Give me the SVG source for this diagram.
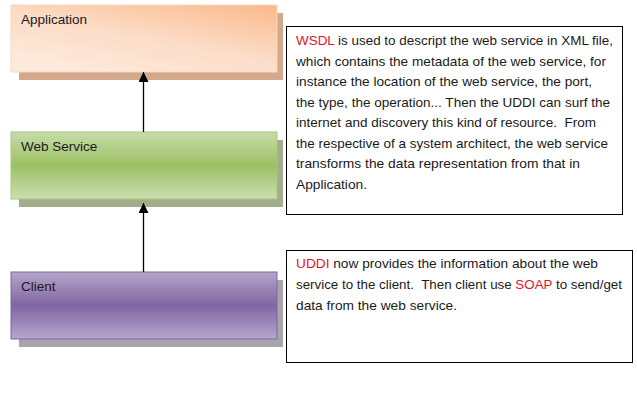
<svg xmlns="http://www.w3.org/2000/svg" width="637" height="400" viewBox="0 0 637 400">
  <defs>
    <linearGradient id="gApp" x1="1" y1="0" x2="0.3" y2="1">
      <stop offset="0" stop-color="#fab98a"/>
      <stop offset="0.55" stop-color="#fcdcc6"/>
      <stop offset="1" stop-color="#fde9dc"/>
    </linearGradient>
    <linearGradient id="gWeb" x1="0" y1="0" x2="0" y2="1">
      <stop offset="0" stop-color="#c6dcaa"/>
      <stop offset="0.5" stop-color="#9dc063"/>
      <stop offset="1" stop-color="#cadfb2"/>
    </linearGradient>
    <linearGradient id="gCli" x1="0" y1="0" x2="0" y2="1">
      <stop offset="0" stop-color="#b5a5c9"/>
      <stop offset="0.5" stop-color="#8166a3"/>
      <stop offset="1" stop-color="#b6a6cb"/>
    </linearGradient>
    <marker id="arrow" viewBox="0 0 10 10" refX="10" refY="5" markerWidth="10" markerHeight="10" markerUnits="userSpaceOnUse" orient="auto">
      <path d="M0,0 L10,5 L0,10 z" fill="#000"/>
    </marker>
    <style>
      .lbl { font-family: "Liberation Sans", Arial, sans-serif; font-size: 13.5px; fill: #1a1a1a; }
      .txt { font-family: "Liberation Sans", Arial, sans-serif; font-size: 13.5px; fill: #1a1a1a; }
      .red { fill: #e2151f; }
      .note { fill: #ffffff; stroke: #000000; stroke-width: 1; }
      .conn { stroke: #000; stroke-width: 1.3; fill: none; marker-end: url(#arrow); }
    </style>
  </defs>

  <rect width="637" height="400" fill="#ffffff"/>

  <g id="node-application">
    <rect x="19" y="13" width="264" height="67" fill="#d3a88b"/>
    <rect x="11" y="5" width="266" height="67" fill="url(#gApp)" stroke="#fbd6bd" stroke-width="1"/>
    <text class="lbl" x="21" y="24">Application</text>
  </g>

  <g id="node-webservice">
    <rect x="19" y="140" width="264" height="67" fill="#a5ac8d"/>
    <rect x="11" y="132" width="266" height="67" fill="url(#gWeb)" stroke="#a9c77a" stroke-width="1"/>
    <text class="lbl" x="21" y="151">Web Service</text>
  </g>

  <g id="node-client">
    <rect x="19" y="280" width="264" height="67" fill="#a7a4ab"/>
    <rect x="11" y="272" width="266" height="67" fill="url(#gCli)" stroke="#7e67a0" stroke-width="1"/>
    <text class="lbl" x="21" y="291">Client</text>
  </g>

  <g id="connectors">
    <line class="conn" x1="143.5" y1="132" x2="143.5" y2="72"/>
    <line class="conn" x1="143.5" y1="272" x2="143.5" y2="203"/>
  </g>

  <g id="note-wsdl">
    <rect class="note" x="286.5" y="26.5" width="336" height="188"/>
    <text class="txt" x="296" y="45" textLength="317" lengthAdjust="spacingAndGlyphs"><tspan class="red">WSDL</tspan> is used to descript the web service in XML file,</text>
    <text class="txt" x="296" y="66" textLength="310" lengthAdjust="spacingAndGlyphs">which contains the metadata of the web service, for</text>
    <text class="txt" x="296" y="86" textLength="296" lengthAdjust="spacingAndGlyphs">instance the location of the web service, the port,</text>
    <text class="txt" x="296" y="107" textLength="314" lengthAdjust="spacingAndGlyphs">the type, the operation... Then the UDDI can surf the</text>
    <text class="txt" x="296" y="127" textLength="300" lengthAdjust="spacingAndGlyphs" xml:space="preserve">internet and discovery this kind of resource.  From</text>
    <text class="txt" x="296" y="148" textLength="312" lengthAdjust="spacingAndGlyphs">the respective of a system architect, the web service</text>
    <text class="txt" x="296" y="168" textLength="284" lengthAdjust="spacingAndGlyphs">transforms the data representation from that in</text>
    <text class="txt" x="296" y="189" textLength="71" lengthAdjust="spacingAndGlyphs">Application.</text>
  </g>

  <g id="note-uddi">
    <rect class="note" x="286.5" y="250.5" width="346" height="112"/>
    <text class="txt" x="296" y="268" textLength="302" lengthAdjust="spacingAndGlyphs"><tspan class="red">UDDI</tspan> now provides the information about the web</text>
    <text class="txt" x="296" y="289" textLength="326" lengthAdjust="spacingAndGlyphs" xml:space="preserve">service to the client.  Then client use <tspan class="red">SOAP</tspan> to send/get</text>
    <text class="txt" x="296" y="310" textLength="161" lengthAdjust="spacingAndGlyphs">data from the web service.</text>
  </g>
</svg>
